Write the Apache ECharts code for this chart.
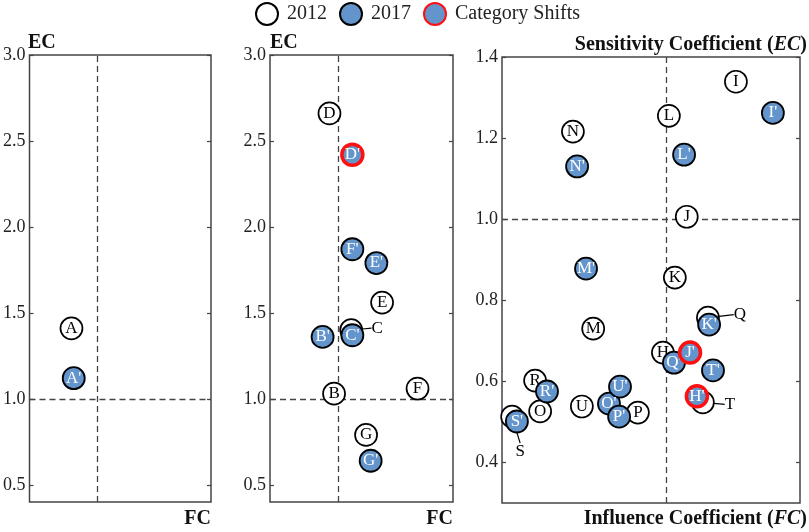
<!DOCTYPE html>
<html>
<head>
<meta charset="utf-8">
<script src="https://cdn.jsdelivr.net/npm/echarts@6/dist/echarts.min.js"></script>
<style>
  html, body { margin: 0; padding: 0; background: #fff; }
  #chart { width: 809px; height: 532px; }
</style>
</head>
<body>
<div id="chart"></div>
<script>
// panel 1
var p1Labels = ['A'];
var p1FC2012 = [0.77];
var p1EC2012 = [1.41];
var p1FC2017 = [0.79];
var p1EC2017 = [1.12];

// panel 2
var p2Labels = ['B', 'C', 'D', 'E', 'F', 'G'];
var p2FC2012 = [0.96, 1.11, 0.92, 1.38, 1.69, 1.24];
var p2EC2012 = [1.03, 1.40, 2.66, 1.56, 1.06, 0.79];
var p2FC2017 = [0.86, 1.12, 1.12, 1.33, 1.12, 1.28];
var p2EC2017 = [1.36, 1.37, 2.42, 1.79, 1.87, 0.64];

// panel 3
var p3Labels = ['H', 'I', 'J', 'K', 'L', 'M', 'N', 'O', 'P', 'Q', 'R', 'S', 'T', 'U'];
var p3FC2012 = [0.99, 1.235, 1.07, 1.03, 1.01, 0.756, 0.688, 0.578, 0.906, 1.141, 0.561, 0.484, 1.124, 0.718];
var p3EC2012 = [0.671, 1.339, 1.006, 0.856, 1.255, 0.730, 1.216, 0.526, 0.523, 0.757, 0.602, 0.513, 0.548, 0.538];
var p3FC2017 = [1.104, 1.359, 1.081, 1.145, 1.061, 0.732, 0.702, 0.809, 0.843, 1.027, 0.601, 0.50, 1.158, 0.846];
var p3EC2017 = [0.563, 1.262, 0.671, 0.740, 1.159, 0.878, 1.130, 0.545, 0.513, 0.646, 0.575, 0.501, 0.627, 0.587];

// categories that changed quadrant
var shifted = ['D', 'H', 'J'];

// tick labels
var ticksLeft = [0.5, 1.0, 1.5, 2.0, 2.5, 3.0];
var ticksRight = [0.4, 0.6, 0.8, 1.0, 1.2, 1.4];

var blue = '#6394cc';
var serif = 'Liberation Serif';

// 2012 labels placed outside the circle with a short leader
var leaderOffsets = { C: [26, -2], Q: [32, -3], T: [27, 2], S: [8, 35] };

var grids = [
  { left: 28, top: 55, width: 183, height: 447 },
  { left: 270, top: 55, width: 183, height: 447 },
  { left: 502, top: 57, width: 298, height: 446 }
];
grids.forEach(function (g) {
  g.show = true;
  g.borderColor = '#444';
  g.borderWidth = 1.5;
  g.backgroundColor = 'transparent';
});

var xAxes = [
  { gridIndex: 0, min: 0.4, max: 2.0, show: false },
  { gridIndex: 1, min: 0.4, max: 2.0, show: false },
  { gridIndex: 2, min: 0.45, max: 1.45, show: false }
];

var yAxes = [];
function addY(gi, min, max, ticks) {
  [0, 1].forEach(function (side) {
    yAxes.push({
      gridIndex: gi,
      type: 'value',
      position: side ? 'right' : 'left',
      min: min,
      max: max,
      splitLine: { show: false },
      axisLine: { show: false },
      axisTick: { show: true, inside: true, length: 4, customValues: ticks, lineStyle: { color: '#444', width: 1.2 } },
      axisLabel: {
        show: !side,
        customValues: ticks,
        margin: 4,
        fontFamily: serif,
        fontSize: 18,
        color: '#222',
        formatter: function (v) { return v.toFixed(1); }
      }
    });
  });
}
addY(0, 0.4, 3.0, ticksLeft);
addY(1, 0.4, 3.0, ticksLeft);
addY(2, 0.3, 1.4, ticksRight);

function makePoints(labels, fc, ec, suffix, keep) {
  var out = [];
  labels.forEach(function (l, i) {
    if (!keep(l)) return;
    var d = { name: l + suffix, key: l, value: [fc[i], ec[i]] };
    if (suffix === '' && leaderOffsets[l]) {
      d.labelLine = { show: true, lineStyle: { color: '#000', width: 1.2 } };
    }
    out.push(d);
  });
  return out;
}

var series = [];
function addPanel(gi, labels, fc12, ec12, fc17, ec17) {
  var ya = gi * 2;
  // quadrant guides at FC = 1 and EC = 1
  series.push({
    type: 'scatter', name: 'guide', xAxisIndex: gi, yAxisIndex: ya, data: [], z: 1,
    markLine: {
      silent: true, symbol: 'none', animation: false, z: 1,
      label: { show: false },
      lineStyle: { color: '#444', width: 1.3, type: [6, 4] },
      data: [{ xAxis: 1 }, { yAxis: 1 }]
    }
  });
  var d12 = makePoints(labels, fc12, ec12, '', function () { return true; });
  series.push({
    type: 'scatter', name: '2012', xAxisIndex: gi, yAxisIndex: ya, z: 3,
    symbolSize: 22,
    itemStyle: { color: '#fff', borderColor: '#000', borderWidth: 1.7, opacity: 1 },
    label: { show: true, position: 'inside', formatter: '{b}', fontFamily: serif, fontSize: 17, color: '#000' },
    labelLayout: function (p) {
      var off = leaderOffsets[d12[p.dataIndex].key];
      return off ? { dx: off[0], dy: off[1] } : {};
    },
    data: d12
  });
  var style17 = { fontFamily: serif, fontSize: 17, color: '#fff' };
  series.push({
    type: 'scatter', name: '2017', xAxisIndex: gi, yAxisIndex: ya, z: 4,
    symbolSize: 22,
    itemStyle: { color: blue, borderColor: '#000', borderWidth: 1.8, opacity: 1 },
    label: Object.assign({ show: true, position: 'inside', formatter: '{b}' }, style17),
    data: makePoints(labels, fc17, ec17, "'", function (l) { return shifted.indexOf(l) < 0; })
  });
  series.push({
    type: 'scatter', name: 'Category Shifts', xAxisIndex: gi, yAxisIndex: ya, z: 5,
    symbolSize: 21,
    itemStyle: { color: blue, borderColor: '#ff1010', borderWidth: 3.5, opacity: 1 },
    label: Object.assign({ show: true, position: 'inside', formatter: '{b}' }, style17),
    data: makePoints(labels, fc17, ec17, "'", function (l) { return shifted.indexOf(l) >= 0; })
  });
}
addPanel(0, p1Labels, p1FC2012, p1EC2012, p1FC2017, p1EC2017);
addPanel(1, p2Labels, p2FC2012, p2EC2012, p2FC2017, p2EC2017);
addPanel(2, p3Labels, p3FC2012, p3EC2012, p3FC2017, p3EC2017);

var titleStyle = {
  fontFamily: serif, fontSize: 20, fontWeight: 'bold', color: '#111',
  rich: { i: { fontFamily: serif, fontSize: 20, fontWeight: 'bold', fontStyle: 'italic', color: '#111' } }
};
var titles = [
  { text: 'EC', left: 28, top: 33 },
  { text: 'FC', right: 598, top: 509 },
  { text: 'EC', left: 270, top: 33 },
  { text: 'FC', right: 356, top: 509 },
  { text: 'Sensitivity Coefficient ({i|EC})', right: 2, top: 35 },
  { text: 'Influence Coefficient ({i|FC})', right: 2, top: 509 }
].map(function (t) { t.padding = 0; t.textStyle = titleStyle; return t; });

var chart = echarts.init(document.getElementById('chart'));
chart.setOption({
  animation: false,
  title: titles,
  legend: {
    data: ['2012', '2017', 'Category Shifts'],
    left: 255, top: 2, padding: 0,
    icon: 'circle',
    itemWidth: 22, itemHeight: 22, itemGap: 12,
    textStyle: { fontFamily: serif, fontSize: 20, color: '#222', padding: [0, 0, 0, 4] }
  },
  grid: grids,
  xAxis: xAxes,
  yAxis: yAxes,
  series: series
});
</script>
</body>
</html>
